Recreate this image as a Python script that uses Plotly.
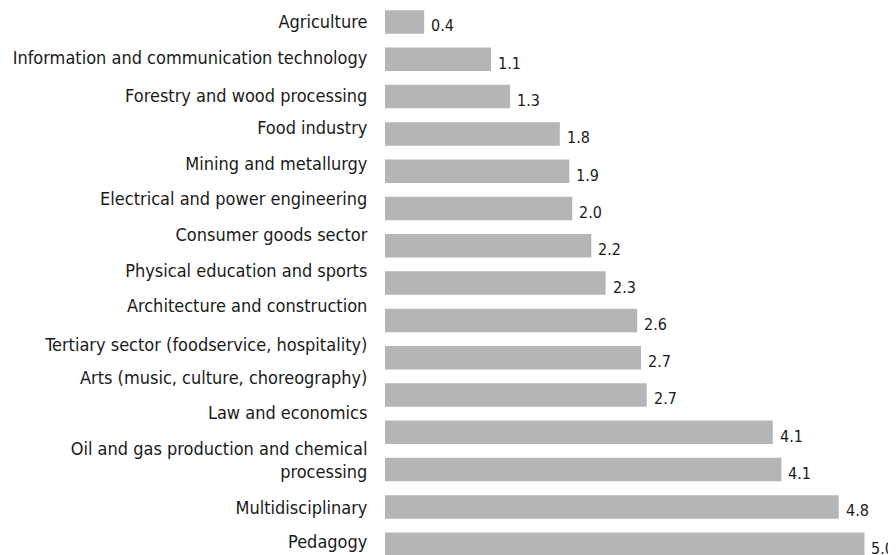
import plotly.graph_objects as go

categories = [
    "Agriculture",
    "Information and communication technology",
    "Forestry and wood processing",
    "Food industry",
    "Mining and metallurgy",
    "Electrical and power engineering",
    "Consumer goods sector",
    "Physical education and sports",
    "Architecture and construction",
    "Tertiary sector (foodservice, hospitality)",
    "Arts (music, culture, choreography)",
    "Law and economics",
    "Oil and gas production and chemical<br>processing",
    "Multidisciplinary",
    "Pedagogy",
]
values = [0.41, 1.11, 1.31, 1.83, 1.93, 1.96, 2.16, 2.31, 2.64, 2.68, 2.74, 4.06, 4.15, 4.75, 5.02]
value_labels = ["0.4", "1.1", "1.3", "1.8", "1.9", "2.0", "2.2", "2.3", "2.6", "2.7", "2.7", "4.1", "4.1", "4.8", "5.0"]

# layout: vertical position of each category label (in bar-index units)
label_pos = [0, 0.965, 1.984, 2.84, 3.81, 4.745, 5.71, 6.68, 7.61, 8.66, 9.54, 10.48, 11.74, 13.03, 13.94]

FONT = "DejaVu Sans Condensed, Liberation Sans Narrow, Roboto, sans-serif"
BAR = "#b4b5b7"
TXT = "#1a1a1a"

idx = list(range(len(categories)))

fig = go.Figure()
fig.add_trace(go.Bar(
    x=values, y=idx, orientation="h",
    marker=dict(color=BAR, line=dict(width=0)),
    hoverinfo="skip",
))

for i, (v, t) in enumerate(zip(values, value_labels)):
    fig.add_annotation(
        x=v, y=i, text=t, showarrow=False,
        xanchor="left", yanchor="middle",
        xshift=5, yshift=-4,
        font=dict(family=FONT, size=16, color=TXT),
    )

# the page body adds an 8px offset, so the figure is 8px smaller on each axis
fig.update_layout(
    width=888, height=547,
    margin=dict(l=377, r=0, t=0, b=0, autoexpand=False),
    paper_bgcolor="white", plot_bgcolor="white",
    bargap=0.37, showlegend=False,
    font=dict(family=FONT, size=18, color=TXT),
)
fig.update_xaxes(range=[0, 5.35], visible=False, fixedrange=True, automargin=False)
fig.update_yaxes(
    range=[14.29, -0.375], autorange=False, automargin=False,
    tickmode="array", tickvals=label_pos, ticktext=categories,
    showgrid=False, zeroline=False, showline=False,
    ticks="outside", ticklen=13, tickcolor="rgba(0,0,0,0)",
    tickfont=dict(family=FONT, size=18, color=TXT),
)

fig.write_html("out.html")
